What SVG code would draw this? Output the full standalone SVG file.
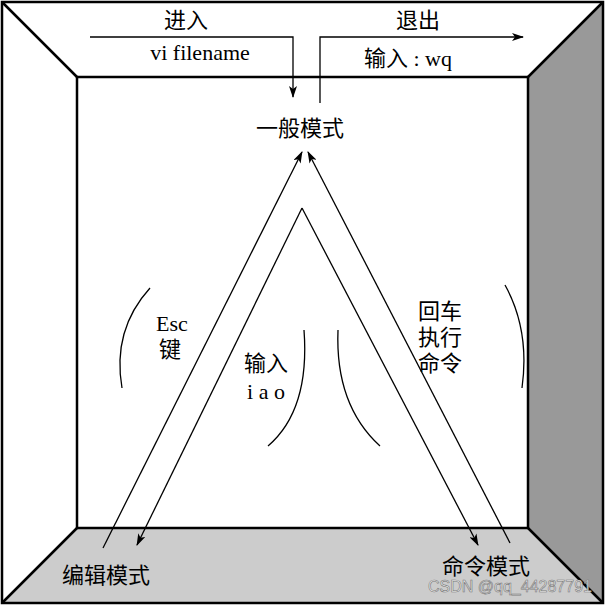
<svg xmlns="http://www.w3.org/2000/svg" width="605" height="605" viewBox="0 0 605 605">
<defs>
<marker id="ah" markerWidth="12" markerHeight="8" refX="11" refY="4" orient="auto" markerUnits="userSpaceOnUse"><path d="M0,0 L12,4 L0,8 L3,4 Z" fill="#000"/></marker>
<style>
.t{font-family:"Liberation Serif","Noto Sans CJK SC",serif;font-size:22px;fill:#000;text-anchor:middle}
.w{stroke:#000;stroke-width:2.5;fill:none}
.c{stroke:#000;stroke-width:1.3;fill:none}
</style>
</defs>
<g id="room">
<rect x="0" y="0" width="605" height="605" fill="#fff"/>
<polygon points="528,77 603,2 603,603 528,528" fill="#999"/>
<polygon points="77,528 528,528 603,603 2,603" fill="#ccc"/>
<rect x="2" y="2" width="601" height="601" class="w"/>
<rect x="77" y="77" width="451" height="451" class="w"/>
<path d="M2,2 L77,77 M603,2 L528,77 M2,603 L77,528 M603,603 L528,528" class="w"/>
</g>
<g id="connectors">
<path d="M90,37 H293 V97" class="c" marker-end="url(#ah)"/>
<path d="M320,103 V37 H523" class="c" marker-end="url(#ah)"/>
<path d="M103,548 L302,152" class="c" marker-end="url(#ah)"/>
<path d="M510,543 L308,152" class="c" marker-end="url(#ah)"/>
<path d="M302,208 L137,545" class="c" marker-end="url(#ah)"/>
<path d="M302,208 L478,545" class="c" marker-end="url(#ah)"/>
<path d="M150,288 Q112,330 122,388" class="c"/>
<path d="M505,285 Q530,330 522,388" class="c"/>
<path d="M304,330 Q310,410 268,446" class="c"/>
<path d="M338,330 Q335,405 380,446" class="c"/>
</g>
<g id="n-top"><text class="t" x="186" y="28">进入</text><text class="t" x="200" y="60">vi filename</text></g>
<g id="n-exit"><text class="t" x="418" y="28">退出</text><text class="t" x="408" y="66">输入 : wq</text></g>
<g id="n-normal"><text class="t" x="300" y="136">一般模式</text></g>
<g id="n-edit"><text class="t" x="106" y="583">编辑模式</text></g>
<g id="n-cmd"><text class="t" x="486" y="574">命令模式</text></g>
<g id="l-esc"><text class="t" x="172" y="331">Esc</text><text class="t" x="170" y="357">键</text></g>
<g id="l-ins"><text class="t" x="266" y="371">输入</text><text class="t" x="266" y="399">i a o</text></g>
<g id="l-ret"><text class="t" x="440" y="319">回车</text><text class="t" x="440" y="345">执行</text><text class="t" x="440" y="371">命令</text></g>
<text x="510" y="592" style="font-family:'Liberation Sans',sans-serif;font-size:16px;fill:#eee;stroke:#777;stroke-width:0.6;text-anchor:middle">CSDN @qq_44287791</text>
</svg>
